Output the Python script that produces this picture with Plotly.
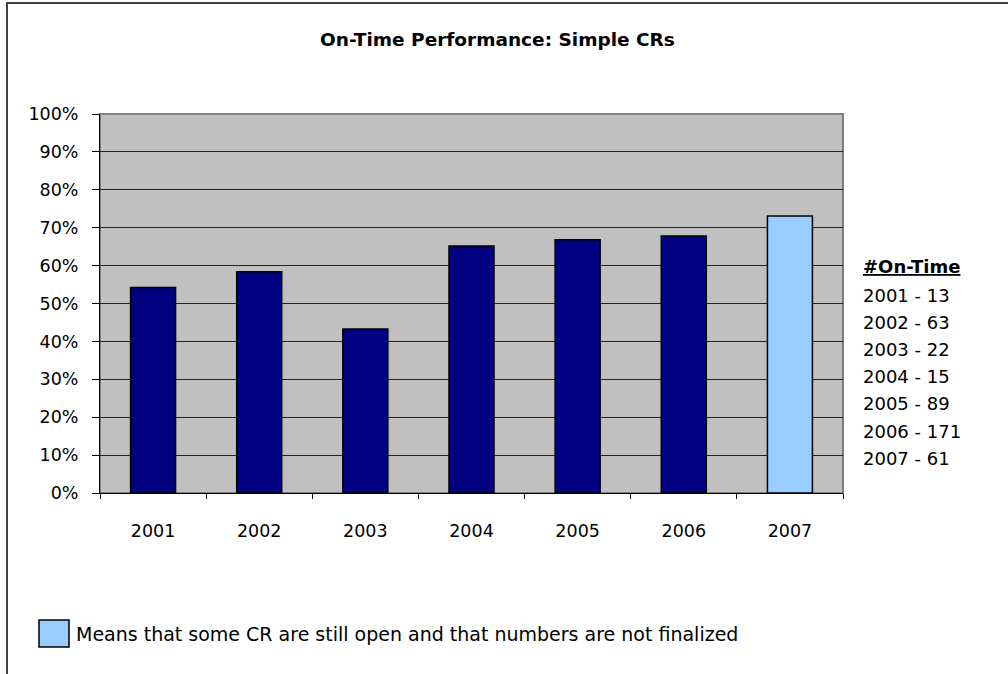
import plotly.graph_objects as go

years = ["2001", "2002", "2003", "2004", "2005", "2006", "2007"]
on_time_pct = [0.542, 0.584, 0.433, 0.652, 0.668, 0.678, 0.731]
bar_colors = ["#000080"] * 6 + ["#99CCFF"]
on_time_counts = [13, 63, 22, 15, 89, 171, 61]
title_text = "On-Time Performance: Simple CRs"
legend_text = "Means that some CR are still open and that numbers are not finalized"
font_family = "DejaVu Sans, Liberation Sans, Arial, sans-serif"

W, H = 1008, 674
# plot area in screen pixels
L, R, T, B = 100, 843, 114, 493

def px(xs):
    return (xs - L) / (R - L)

def py(ys):
    return (B - ys) / (B - T)

fig = go.Figure()
fig.add_trace(go.Bar(
    x=years, y=on_time_pct,
    marker=dict(color=bar_colors, line=dict(color="#000000", width=1.5)),
    showlegend=False, hoverinfo="x+y",
))

annotations = [
    dict(text="<b>" + title_text + "</b>", xref="paper", yref="paper",
         x=px(497), y=py(40), xanchor="center", yanchor="middle", showarrow=False,
         font=dict(size=18.5, color="#000000", family=font_family)),
    dict(text="<b><u>#On-Time</u></b>", xref="paper", yref="paper",
         x=px(861), y=py(266), xanchor="left", yanchor="middle", showarrow=False,
         font=dict(size=18, color="#000000", family=font_family)),
    dict(text=legend_text, xref="paper", yref="paper",
         x=px(74), y=py(634), xanchor="left", yanchor="middle", showarrow=False,
         font=dict(size=19, color="#000000", family=font_family)),
]
for i, (yr, c) in enumerate(zip(years, on_time_counts)):
    annotations.append(dict(
        text=f"{yr} - {c}", xref="paper", yref="paper",
        x=px(861), y=py(295 + i * 27.2), xanchor="left", yanchor="middle",
        showarrow=False, font=dict(size=18, color="#000000", family=font_family)))

shapes = [
    # plot area border (gray)
    dict(type="rect", xref="paper", yref="paper", x0=0, y0=0, x1=1, y1=1,
         line=dict(color="#808080", width=2), fillcolor="rgba(0,0,0,0)", layer="below"),
    # outer chart frame
    dict(type="rect", xref="paper", yref="paper", x0=px(7), y0=py(720), x1=px(1030), y1=py(3),
         line=dict(color="#404040", width=2), fillcolor="rgba(0,0,0,0)"),
    # legend swatch
    dict(type="rect", xref="paper", yref="paper", x0=px(39), y0=py(647), x1=px(69), y1=py(620),
         line=dict(color="#000000", width=1.5), fillcolor="#99CCFF"),
]

fig.update_layout(
    width=W, height=H,
    margin=dict(l=L, r=W - R, t=T, b=H - B, pad=0),
    paper_bgcolor="#FFFFFF", plot_bgcolor="#C0C0C0",
    bargap=0.576,
    font=dict(family=font_family, size=17.5, color="#000000"),
    annotations=annotations, shapes=shapes,
    xaxis=dict(type="category", showline=True, linecolor="#000000", linewidth=1,
               ticks="outside", tickson="boundaries", ticklen=5, tickcolor="#000000",
               ticklabelstandoff=22, showgrid=False, fixedrange=True,
               tickfont=dict(size=17.5, family=font_family)),
    yaxis=dict(range=[0, 1], dtick=0.1, tickformat=".0%", showline=True,
               linecolor="#000000", linewidth=1, ticks="outside", ticklen=7,
               tickcolor="#000000", ticklabelstandoff=10, showgrid=True,
               gridcolor="#222222", gridwidth=1, zeroline=False, fixedrange=True,
               tickfont=dict(size=17.5, family=font_family)),
)

fig.write_html("out.html", config={"displayModeBar": False},
               post_script="document.body.style.margin='0';document.body.style.overflow='hidden';")
